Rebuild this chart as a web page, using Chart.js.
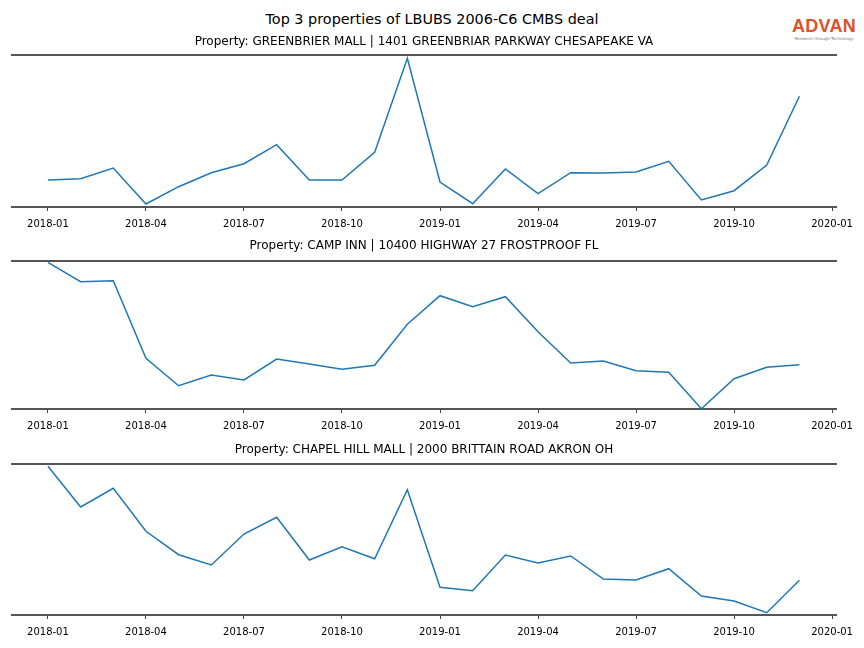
<!DOCTYPE html>
<html>
<head>
<meta charset="utf-8">
<script src="https://cdn.jsdelivr.net/npm/chart.js@4.4.1/dist/chart.umd.min.js"></script>
<style>
  body { margin: 0; background: #fff; font-family: "DejaVu Sans", sans-serif; }
  #wrap { position: relative; width: 864px; height: 648px; overflow: hidden; }
  #mainTitle { position: absolute; top: 11px; left: 0; width: 864px; text-align: center; font-size: 14.4px; color: #000; }
  #logo { position: absolute; top: 17px; left: 788px; width: 72px; text-align: center; }
  #logo .brand { font-family: "Liberation Sans", sans-serif; font-weight: bold; font-size: 18px; color: #e0502a; letter-spacing: 0.3px; line-height: 19px; }
  #logo .tag { font-size: 4px; color: #777; line-height: 5px; }
  canvas { position: absolute; left: 0; }
</style>
</head>
<body>
<div id="wrap">
  <div id="mainTitle">Top 3 properties of LBUBS 2006-C6 CMBS deal</div>
  <div id="logo"><div class="brand">ADVAN</div><div class="tag">Research through Technology</div></div>
  <canvas id="chart1" width="864" height="207" style="top:30px"></canvas>
  <canvas id="chart2" width="864" height="205" style="top:234px"></canvas>
  <canvas id="chart3" width="864" height="207" style="top:438px"></canvas>
</div>
<script>
// monthly values, 2018-01 .. 2019-12
const months = ['2018-01', '2018-02', '2018-03', '2018-04', '2018-05', '2018-06',
    '2018-07', '2018-08', '2018-09', '2018-10', '2018-11', '2018-12',
    '2019-01', '2019-02', '2019-03', '2019-04', '2019-05', '2019-06',
    '2019-07', '2019-08', '2019-09', '2019-10', '2019-11', '2019-12'];
const tickLabels = ['2018-01', '2018-04', '2018-07', '2018-10', '2019-01',
    '2019-04', '2019-07', '2019-10', '2020-01'];

const titles = [
    'Property: GREENBRIER MALL | 1401 GREENBRIAR PARKWAY CHESAPEAKE VA',
    'Property: CAMP INN | 10400 HIGHWAY 27 FROSTPROOF FL',
    'Property: CHAPEL HILL MALL | 2000 BRITTAIN ROAD AKRON OH',
];

const greenbrier = [27, 28.3, 39, 3, 20.3, 34.3, 43.3, 62.3, 27, 27, 54.7, 148.7,
    25, 3.3, 38, 13.3, 34.3, 34, 35, 45.7, 7, 16.3, 42, 110.7];
const campInn = [146.7, 127.3, 128.3, 50.7, 23.3, 34, 29, 50, 45, 39.7, 43.7, 84.7,
    113.3, 102.3, 112.3, 77.3, 46, 48, 38.3, 36.7, 0.3, 30.3, 41.7, 44.3];
const chapelHill = [148.7, 108, 126.7, 83.7, 60.3, 50, 81, 97.7, 55, 68.3, 56.3, 125.3,
    27.7, 24.3, 60, 52, 59, 36, 35, 46.3, 19, 14, 2.3, 34.7];

const yMax = [152, 148, 151];

function renderPanel(id, title, values, top, titleBottom, maxY) {
    const canvas = document.getElementById(id);
    const points = values.map((v, i) => ({ x: i, y: v }));

    // eslint-disable-next-line no-new
    new Chart(canvas, {
        type: 'line',
        data: {
            datasets: [
                {
                    label: title,
                    data: points,
                    borderColor: '#1f77b4',
                    borderWidth: 1.5,
                    pointRadius: 0,
                    tension: 0,
                    fill: false,
                },
            ],
        },
        options: {
            responsive: false,
            animation: false,
            layout: { padding: { left: 12, right: 28, top: 0, bottom: 0 } },
            plugins: {
                legend: { display: false },
                tooltip: { enabled: false },
                title: {
                    display: true,
                    text: title,
                    color: '#000',
                    font: { family: 'DejaVu Sans', size: 12, weight: 'normal' },
                    padding: { top: top, bottom: titleBottom },
                },
            },
            scales: {
                x: {
                    type: 'linear',
                    min: -1.1,
                    max: 24.12,
                    afterBuildTicks: axis => {
                        axis.ticks = tickLabels.map((t, i) => ({ value: i * 3 }));
                    },
                    ticks: {
                        color: '#000',
                        padding: 7,
                        maxRotation: 0,
                        autoSkip: false,
                        font: { family: 'DejaVu Sans', size: 10 },
                        callback: (v, i) => tickLabels[i],
                    },
                    grid: { drawOnChartArea: false, drawTicks: true, tickLength: 4, color: '#444' },
                    border: { display: true, color: '#555', width: 2 },
                },
                x2: {
                    type: 'linear',
                    position: 'top',
                    min: -1.1,
                    max: 24.12,
                    ticks: { display: false },
                    grid: { display: false, drawTicks: false },
                    border: { display: true, color: '#555', width: 2 },
                },
                y: { display: false, min: 0, max: maxY },
            },
        },
    });
}

renderPanel('chart1', titles[0], greenbrier, 5, 5.6, yMax[0]);
renderPanel('chart2', titles[1], campInn, 5, 7.6, yMax[1]);
renderPanel('chart3', titles[2], chapelHill, 5, 6.6, yMax[2]);
</script>
</body>
</html>
